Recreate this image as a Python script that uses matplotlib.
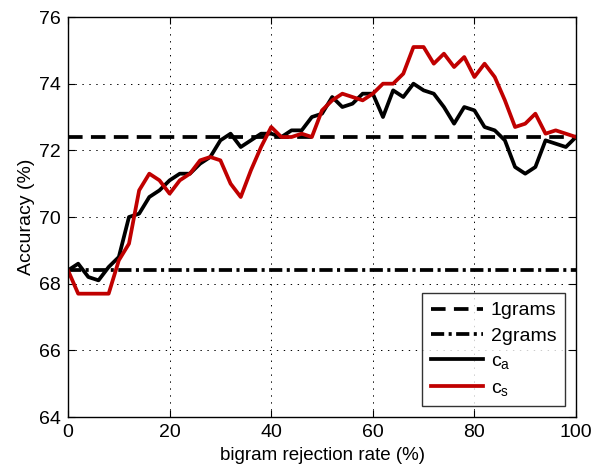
import numpy as np
import matplotlib
matplotlib.use("Agg")
import matplotlib.pyplot as plt

plt.rcParams['font.family'] = ['Liberation Sans', 'DejaVu Sans']
plt.rcParams['lines.scale_dashes'] = False

# rejection rate (%) sampled every 2 %
rate = np.arange(0, 101, 2)

# accuracy (%) for the two systems
acc_ca = [68.4, 68.6, 68.2, 68.1, 68.5, 68.8, 70.0, 70.1, 70.6, 70.8,
          71.1, 71.3, 71.3, 71.6, 71.8, 72.3, 72.5, 72.1, 72.3, 72.5,
          72.5, 72.4, 72.6, 72.6, 73.0, 73.1, 73.6, 73.3, 73.4, 73.7,
          73.7, 73.0, 73.8, 73.6, 74.0, 73.8, 73.7, 73.3, 72.8, 73.3,
          73.2, 72.7, 72.6, 72.3, 71.5, 71.3, 71.5, 72.3, 72.2, 72.1,
          72.4]
acc_cs = [68.4, 67.7, 67.7, 67.7, 67.7, 68.7, 69.2, 70.8, 71.3, 71.1,
          70.7, 71.1, 71.3, 71.7, 71.8, 71.7, 71.0, 70.6, 71.4, 72.1,
          72.7, 72.4, 72.4, 72.5, 72.4, 73.2, 73.5, 73.7, 73.6, 73.5,
          73.7, 74.0, 74.0, 74.3, 75.1, 75.1, 74.6, 74.9, 74.5, 74.8,
          74.2, 74.6, 74.2, 73.5, 72.7, 72.8, 73.1, 72.5, 72.6, 72.5,
          72.4]

# baselines
base_1grams = 72.4
base_2grams = 68.4

xticks = [0, 20, 40, 60, 80, 100]
yticks = [64, 66, 68, 70, 72, 74, 76]

fig = plt.figure(figsize=(5.92, 4.65), dpi=100)
ax = fig.add_axes([0.1149, 0.1032, 0.8581, 0.8602])

lw = 2.7
ax.axhline(base_1grams, color='black', lw=lw, linestyle=(0, (10.5, 6)), label='1grams')
ax.axhline(base_2grams, color='black', lw=lw, linestyle=(0, (9.5, 3.2, 2.2, 3.2)), label='2grams')
ax.plot(rate, acc_ca, color='black', lw=lw, label=r'$\mathregular{c_a}$')
ax.plot(rate, acc_cs, color='#C00000', lw=lw, label=r'$\mathregular{c_s}$')

ax.set_xlim(0, 100)
ax.set_ylim(64, 76)
ax.set_xticks(xticks)
ax.set_yticks(yticks)
ax.tick_params(direction='in', length=5, width=0.8, labelsize=14,
               top=True, right=True, pad=5)
ax.grid(True, color='black', linestyle=(0, (1, 4)), lw=0.7)
for sp in ax.spines.values():
    sp.set_linewidth(1.0)

ax.set_xlabel('bigram rejection rate (%)', fontsize=13.5, labelpad=4)
ax.set_ylabel('Accuracy (%)', fontsize=14, labelpad=3)

leg = ax.legend(loc='lower right', fontsize=14, frameon=True, fancybox=False,
                edgecolor='black', handlelength=2.7, labelspacing=0.4,
                borderaxespad=0.55, handletextpad=0.4, borderpad=0.45)
leg.get_frame().set_linewidth(1.0)

fig.savefig('out.png', dpi=100)
